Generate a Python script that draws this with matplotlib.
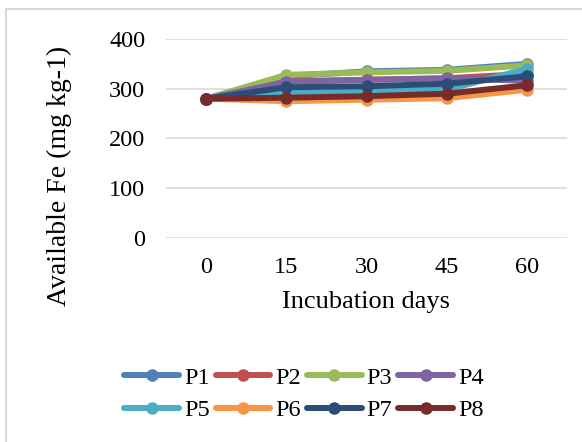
import matplotlib
matplotlib.use("Agg")
import matplotlib.pyplot as plt
from matplotlib.lines import Line2D

days = ["0", "15", "30", "45", "60"]
series_names = ["P1", "P2", "P3", "P4", "P5", "P6", "P7", "P8"]
P1 = [280, 325, 335, 338, 350]
P2 = [280, 315, 318, 321, 330]
P3 = [280, 328, 333, 336, 347]
P4 = [280, 314, 318, 321, 316]
P5 = [280, 291, 295, 298, 340]
P6 = [280, 275, 278, 281, 298]
P7 = [280, 303, 305, 310, 325]
P8 = [280, 282, 285, 290, 307]
values = [P1, P2, P3, P4, P5, P6, P7, P8]
colors = ["#4F81BD", "#C0504D", "#9BBB59", "#8064A2",
          "#4BACC6", "#F79646", "#2C4D75", "#772C2A"]
yticks = [0, 100, 200, 300, 400]

plt.rcParams['font.family'] = ['Liberation Serif', 'DejaVu Serif']

W, H = 582, 442
fig = plt.figure(figsize=(W / 100, H / 100), dpi=100)
ax = fig.add_axes([166 / W, 1 - 238 / H, (567 - 166) / W, (238 - 39) / H])

x = list(range(len(days)))
for name, vals, c in zip(series_names, values, colors):
    ax.plot(x, vals, color=c, lw=4.3, marker='o', ms=8, label=name,
            solid_capstyle='round', clip_on=False, zorder=3)

ax.set_xlim(-0.5, len(days) - 0.5)
ax.set_ylim(0, 400)
ax.set_yticks(yticks)
ax.set_xticks(x)
ax.set_xticklabels(days)
ax.grid(axis='y', color='#D9D9D9', lw=1.2)
ax.set_axisbelow(True)
for s in ax.spines.values():
    s.set_visible(False)
ax.tick_params(length=0, labelsize=17.5, colors='black')
ax.tick_params(axis='y', pad=15)
ax.tick_params(axis='x', pad=14)
ax.set_xlabel("Incubation days", fontsize=19, labelpad=9)
ax.set_ylabel("Available Fe (mg kg-1)", fontsize=20)
ax.yaxis.set_label_coords(-0.234, 0.312)

handles = [Line2D([0], [0], color=c, lw=4.3, marker='o', ms=8,
                  solid_capstyle='round') for c in colors]
# matplotlib fills legend columns first; reorder so rows read P1..P4 / P5..P8
order = [0, 4, 1, 5, 2, 6, 3, 7]
fig.legend([handles[i] for i in order], [series_names[i] for i in order],
           loc='center', bbox_to_anchor=(304 / W, 1 - 394 / H),
           ncol=4, frameon=False, fontsize=17.5, handlelength=2.25,
           handletextpad=0.2, columnspacing=0.25, labelspacing=0.45,
           borderpad=0)

# outer chart frame fragments (top and left edges)
fig.add_artist(Line2D([6 / W, 1], [1 - 9 / H, 1 - 9 / H], color='#D9D9D9', lw=1.5))
fig.add_artist(Line2D([6 / W, 6 / W], [0, 1 - 9 / H], color='#D9D9D9', lw=1.5))

fig.savefig("out.png", dpi=100)
